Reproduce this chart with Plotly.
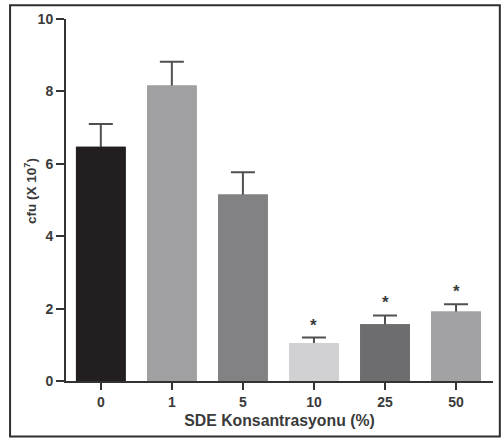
import plotly.graph_objects as go

categories = ["0", "1", "5", "10", "25", "50"]
values = [6.47, 8.16, 5.15, 1.05, 1.57, 1.92]
errors = [0.63, 0.66, 0.62, 0.15, 0.24, 0.20]
colors = ["#231f20", "#a0a0a2", "#828284", "#d1d1d3", "#6d6d6f", "#a2a2a4"]
significant = [False, False, False, True, True, True]

FONT = "Liberation Sans"
TXT = "#3a3a3a"
AX = "#333333"

fig = go.Figure()
# bars with (symmetric) error bars; lower half hidden by the overlay bars
fig.add_trace(go.Bar(
    x=categories, y=values, width=0.7,
    marker=dict(color=colors, line=dict(width=0)),
    error_y=dict(type="data", array=errors, color="#505052", thickness=2, width=12),
    showlegend=False, hoverinfo="skip",
))
fig.add_trace(go.Bar(
    x=categories, y=values, width=0.7,
    marker=dict(color=colors, line=dict(width=0)),
    showlegend=False,
))

annotations = []
for i, (v, e, s) in enumerate(zip(values, errors, significant)):
    if s:
        annotations.append(dict(
            x=i, y=v + e, xref="x", yref="y", text="*", showarrow=False,
            yanchor="bottom", yshift=1,
            font=dict(family=FONT, size=17, color=TXT, weight="bold")))
annotations.append(dict(
    x=-0.084, y=0.525, xref="paper", yref="paper", text="cfu (X 10<sup>7</sup>)",
    textangle=-90, showarrow=False, xanchor="center", yanchor="middle",
    font=dict(family=FONT, size=13.5, color=TXT, weight="bold")))

fig.update_layout(
    width=504, height=442,
    margin=dict(l=66, r=11, t=15, b=61),
    plot_bgcolor="white", paper_bgcolor="white",
    barmode="overlay",
    annotations=annotations,
    xaxis=dict(
        type="category", range=[-0.49, 5.52],
        showline=True, linewidth=2, linecolor=AX,
        ticks="outside", ticklen=7, tickwidth=2, tickcolor=AX,
        tickfont=dict(family=FONT, size=14, color=TXT, weight="bold"),
        title=dict(text="SDE Konsantrasyonu (%)", standoff=6,
                   font=dict(family=FONT, size=15.8, color=TXT, weight="bold")),
        showgrid=False, zeroline=False,
    ),
    yaxis=dict(
        range=[0, 10], dtick=2, tick0=0,
        showline=True, linewidth=2, linecolor=AX,
        ticks="outside", ticklen=8, tickwidth=2, tickcolor=AX,
        ticklabeloverflow="allow",
        tickfont=dict(family=FONT, size=14, color=TXT, weight="bold"),
        showgrid=False, zeroline=False,
    ),
    shapes=[dict(type="rect", xref="paper", yref="paper",
                 x0=-0.131, x1=1.016, y0=-0.153, y1=1.038,
                 line=dict(color="#2e2e2e", width=2), fillcolor="rgba(0,0,0,0)")],
)

fig.write_html("out.html", config={"displayModeBar": False},
               post_script="document.body.style.margin='0';")
